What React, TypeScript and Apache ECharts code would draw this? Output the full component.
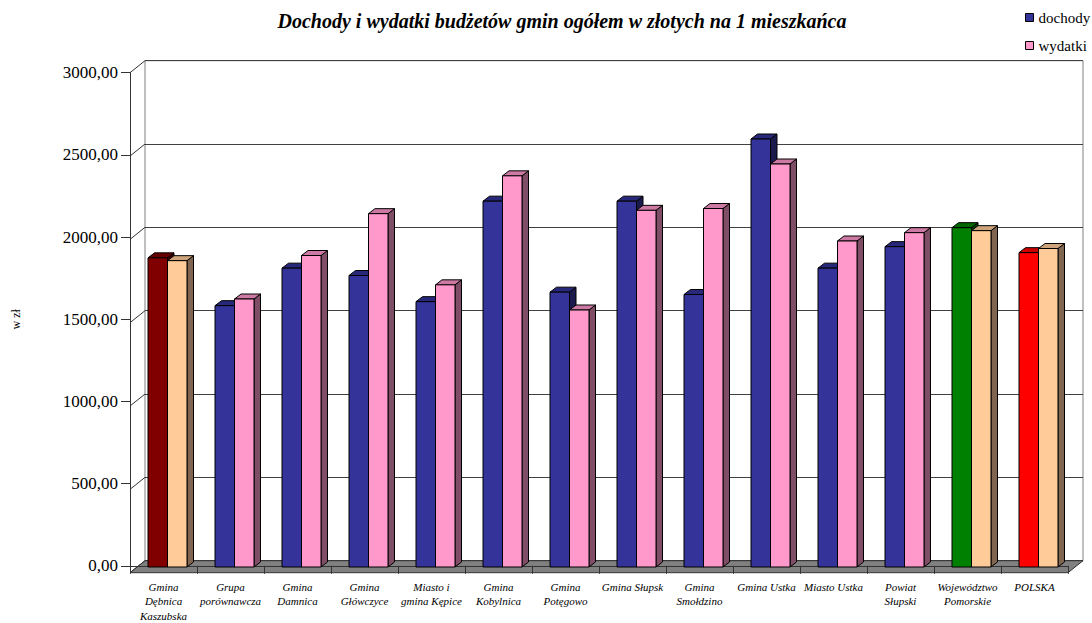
import React, { useEffect, useRef } from "react";
import * as echarts from "echarts";

const categories = [
  "Gmina\nDębnica\nKaszubska",
  "Grupa\nporównawcza",
  "Gmina\nDamnica",
  "Gmina\nGłówczyce",
  "Miasto i\ngmina Kępice",
  "Gmina\nKobylnica",
  "Gmina\nPotęgowo",
  "Gmina Słupsk",
  "Gmina\nSmołdzino",
  "Gmina Ustka",
  "Miasto Ustka",
  "Powiat\nSłupski",
  "Województwo\nPomorskie",
  "POLSKA",
];
const dochody = [1855, 1568, 1793, 1749, 1592, 2195, 1649, 2195, 1635, 2568, 1793, 1922, 2036, 1886];
const wydatki = [1838, 1608, 1869, 2120, 1693, 2347, 1542, 2140, 2151, 2418, 1956, 2006, 2018, 1911];
const yTicks = [0, 500, 1000, 1500, 2000, 2500, 3000];

// colour sets: [front, top, side]
const BLUE = ["#333399", "#28287A", "#1A1A4D"];
const PINK = ["#FF99CC", "#CC7AA3", "#804D66"];
const PEACH = ["#FFCC99", "#CCA37A", "#806650"];
const DARKRED = ["#800000", "#660000", "#400000"];
const GREEN = ["#008000", "#006600", "#004000"];
const RED = ["#FF0000", "#CC0000", "#800000"];
const dochodyColors = categories.map((_, i) => (i === 0 ? DARKRED : i === 12 ? GREEN : i === 13 ? RED : BLUE));
const wydatkiColors = categories.map((_, i) => (i === 0 || i === 12 || i === 13 ? PEACH : PINK));

const FONT = "Liberation Serif";
// layout
const FRONT_L = 130, FRONT_T = 72.7, W = 938, H = 500;
const DEPTH_X = 15, DEPTH_Y = -12;
const BAR_L = 134, BAR_T = 67;
const BW = 19.5, DX = 6.5, DY = -5;

function makeRender(side: "d" | "w", colors: string[][]) {
  return (params: any, api: any) => {
    const idx = api.value(0);
    const val = api.value(1);
    const top = api.coord([idx, val]);
    const bot = api.coord([idx, 0]);
    const cx = top[0];
    const x0 = side === "d" ? cx - BW : cx;
    const x1 = x0 + BW;
    const c = colors[idx];
    const ty = top[1], by = bot[1];
    return {
      type: "group",
      children: [
        {
          type: "polygon",
          shape: { points: [[x1, ty], [x1 + DX, ty + DY], [x1 + DX, by + DY], [x1, by]] },
          style: { fill: c[2], stroke: "#000", lineWidth: 1 },
        },
        {
          type: "polygon",
          shape: { points: [[x0, ty], [x0 + DX, ty + DY], [x1 + DX, ty + DY], [x1, ty]] },
          style: { fill: c[1], stroke: "#000", lineWidth: 1 },
        },
        {
          type: "rect",
          shape: { x: x0, y: ty, width: BW, height: by - ty },
          style: { fill: c[0], stroke: "#000", lineWidth: 1 },
        },
      ],
    };
  };
}

export default function App() {
  const ref = useRef<HTMLDivElement>(null);
  useEffect(() => {
    if (!ref.current) return;
    const chart = echarts.init(ref.current, null, { renderer: "svg" });
    const yMax = 3000;
    const connectors = yTicks.map((v) => {
      const yf = FRONT_T + H - (v / yMax) * H;
      return {
        type: "line",
        z: 3,
        shape: { x1: FRONT_L, y1: yf, x2: FRONT_L + DEPTH_X, y2: yf + DEPTH_Y },
        style: { stroke: "#333", lineWidth: 1 },
      };
    });
    const fb = FRONT_T + H;
    chart.setOption({
      animation: false,
      textStyle: { fontFamily: FONT, color: "#000" },
      title: {
        text: "Dochody i wydatki budżetów gmin ogółem w złotych na 1 mieszkańca",
        left: 557,
        textAlign: "center",
        top: 6,
        textStyle: { fontFamily: FONT, fontSize: 20, fontWeight: "bold", fontStyle: "italic", color: "#000" },
      },
      legend: {
        orient: "vertical",
        left: 1020,
        top: 5,
        itemWidth: 8,
        itemHeight: 8,
        itemGap: 13,
        icon: "rect",
        textStyle: { fontFamily: FONT, fontSize: 15, color: "#000" },
        data: [
          { name: "dochody", itemStyle: { color: "#333399", borderColor: "#000", borderWidth: 1 } },
          { name: "wydatki", itemStyle: { color: "#FF99CC", borderColor: "#000", borderWidth: 1 } },
        ],
      },
      graphic: [
        {
          type: "polygon",
          z: 1,
          shape: {
            points: [
              [FRONT_L, fb],
              [FRONT_L + W, fb],
              [FRONT_L + W + DEPTH_X, fb + DEPTH_Y],
              [FRONT_L + DEPTH_X, fb + DEPTH_Y],
            ],
          },
          style: { fill: "#808080", stroke: "#333", lineWidth: 1 },
        },
        ...connectors,
      ],
      grid: [
        // front axes
        { left: FRONT_L, top: FRONT_T, width: W, height: H },
        // back wall
        {
          left: FRONT_L + DEPTH_X,
          top: FRONT_T + DEPTH_Y,
          width: W,
          height: H,
          show: true,
          borderColor: "#808080",
          borderWidth: 1,
          backgroundColor: "#fff",
        },
        // bar plane
        { left: BAR_L, top: BAR_T, width: W, height: H },
      ],
      xAxis: [
        {
          gridIndex: 0,
          type: "category",
          data: categories,
          axisLine: { show: true, lineStyle: { color: "#333", width: 1 } },
          axisTick: { show: true, length: 8, lineStyle: { color: "#333" } },
          axisLabel: {
            interval: 0,
            margin: 14,
            fontFamily: FONT,
            fontSize: 11,
            fontStyle: "italic",
            lineHeight: 14.4,
            color: "#000",
          },
          z: 4,
        },
        { gridIndex: 1, type: "category", data: categories, show: false },
        { gridIndex: 2, type: "category", data: categories, show: false },
      ],
      yAxis: [
        {
          gridIndex: 0,
          type: "value",
          min: 0,
          max: yMax,
          interval: 500,
          name: "w zł",
          nameLocation: "middle",
          nameGap: 108,
          nameTextStyle: { fontFamily: FONT, fontSize: 12, color: "#000" },
          axisLine: { show: true, lineStyle: { color: "#333", width: 1 } },
          axisTick: { show: true, length: 9, lineStyle: { color: "#333" } },
          axisLabel: {
            margin: 12,
            fontFamily: FONT,
            fontSize: 17,
            color: "#000",
            formatter: (v: number) => v.toFixed(2).replace(".", ","),
          },
          splitLine: { show: false },
          z: 4,
        },
        {
          gridIndex: 1,
          type: "value",
          min: 0,
          max: yMax,
          interval: 500,
          axisLine: { show: false },
          axisTick: { show: false },
          axisLabel: { show: false },
          splitLine: { show: true, lineStyle: { color: "#404040", width: 1 } },
        },
        { gridIndex: 2, type: "value", min: 0, max: yMax, show: false, splitLine: { show: false } },
      ],
      series: [
        {
          name: "dochody",
          type: "custom",
          xAxisIndex: 2,
          yAxisIndex: 2,
          z: 5,
          itemStyle: { color: "#333399" },
          renderItem: makeRender("d", dochodyColors),
          data: dochody.map((v, i) => [i, v]),
        },
        {
          name: "wydatki",
          type: "custom",
          xAxisIndex: 2,
          yAxisIndex: 2,
          z: 6,
          itemStyle: { color: "#FF99CC" },
          renderItem: makeRender("w", wydatkiColors),
          data: wydatki.map((v, i) => [i, v]),
        },
      ],
    });
    return () => chart.dispose();
  }, []);
  return (
    <div
      ref={ref}
      style={{ position: "fixed", left: 0, top: 0, width: 1092, height: 623, background: "#fff" }}
    />
  );
}
